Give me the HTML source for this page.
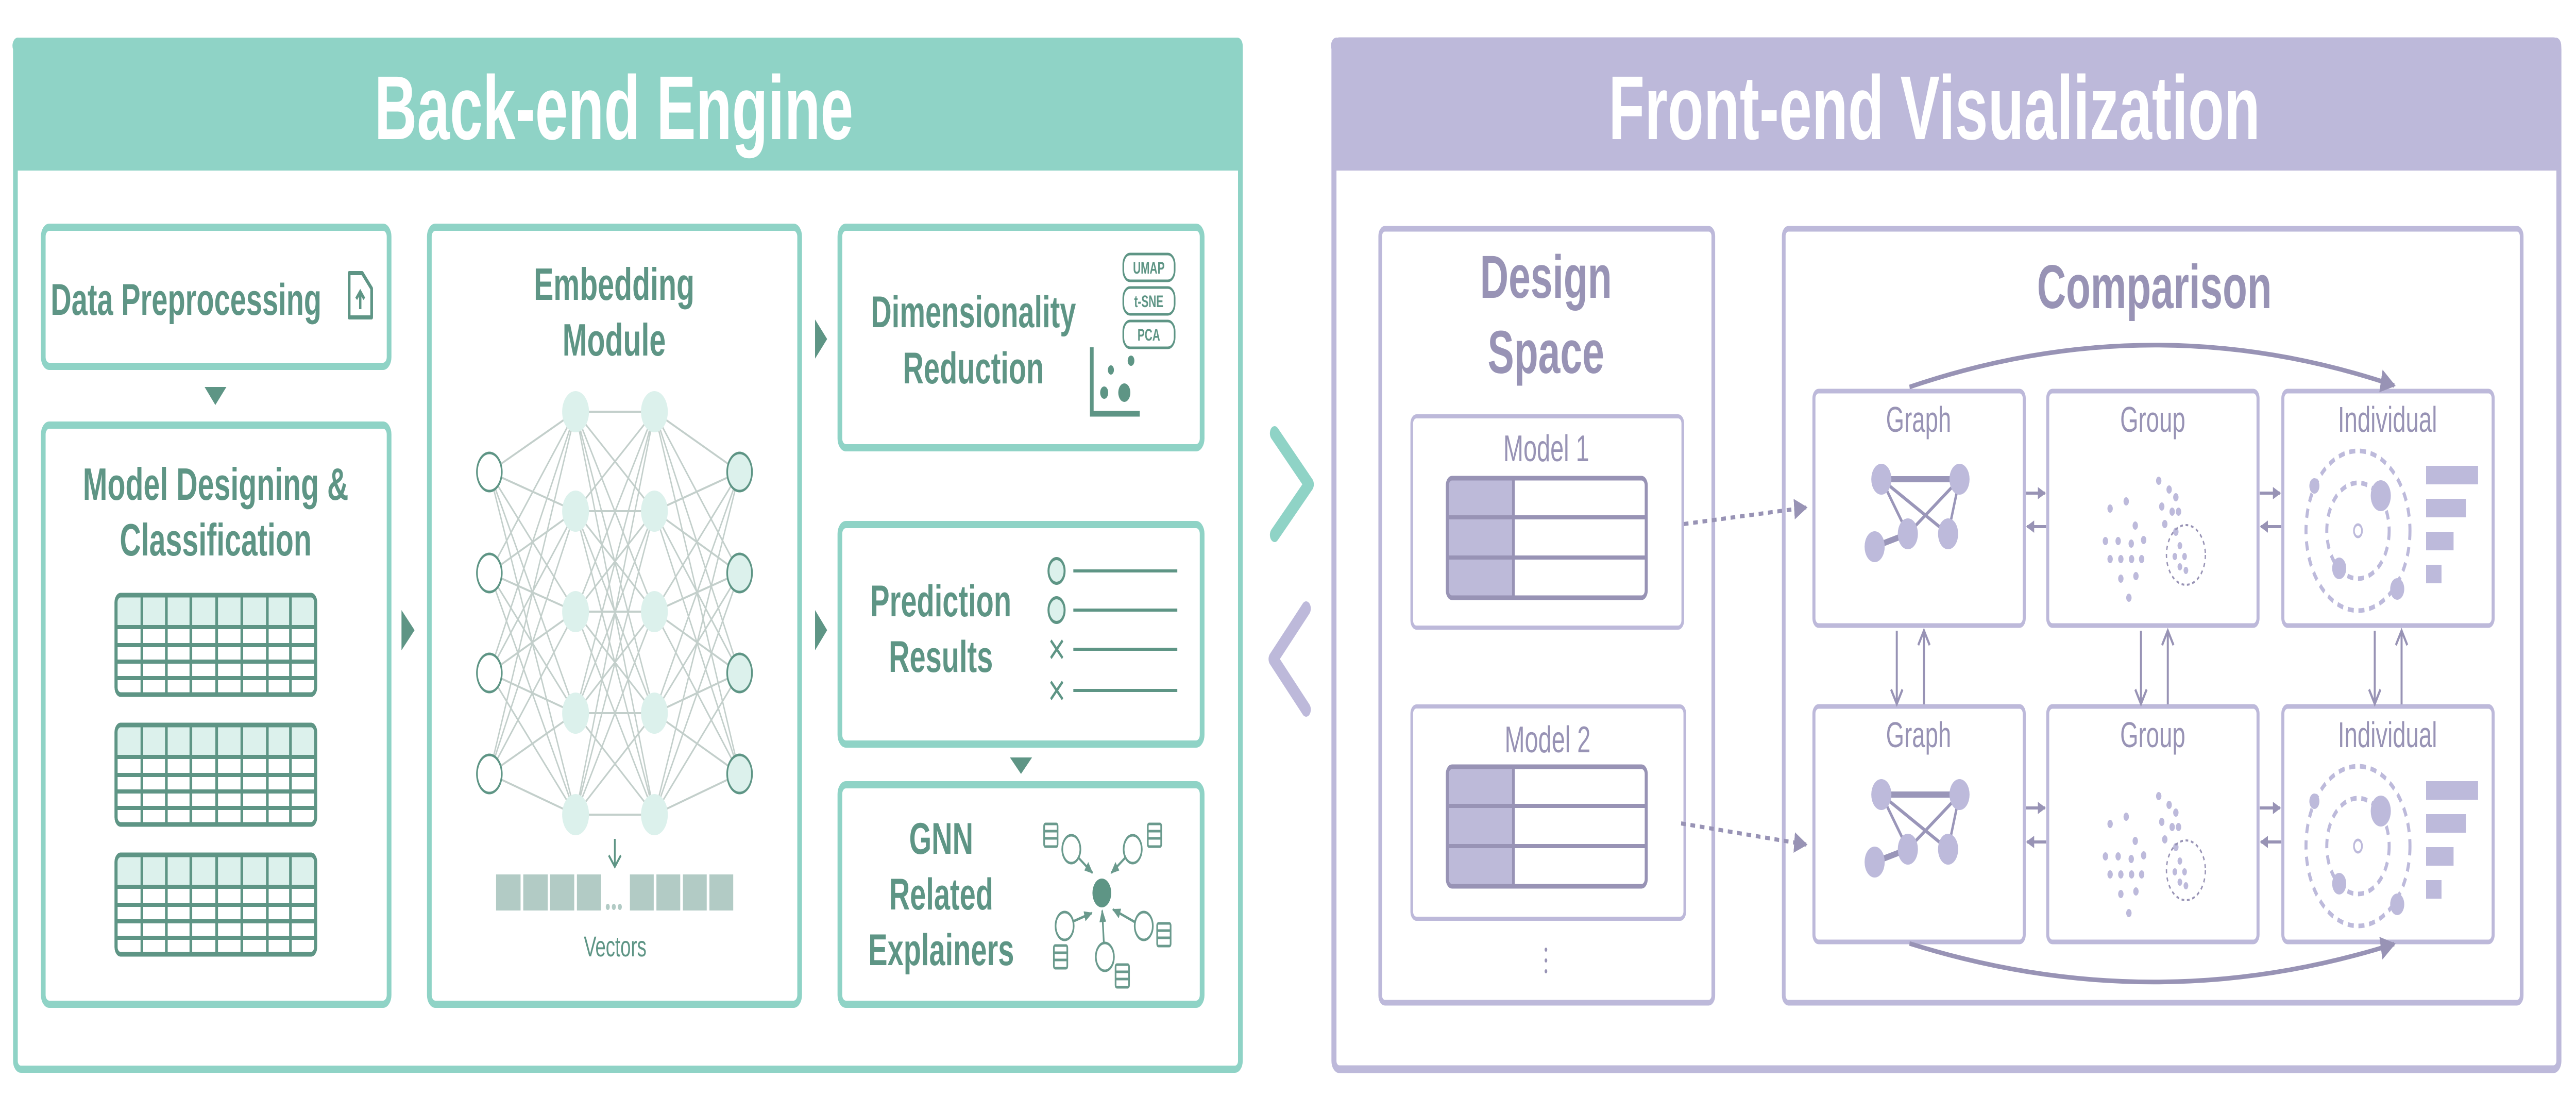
<!DOCTYPE html>
<html><head><meta charset="utf-8"><style>
html,body{margin:0;padding:0;background:#fff;overflow:hidden;width:100%;height:100%;}
svg{display:block;width:100vw;height:100vh;}
text{font-family:"Liberation Sans",sans-serif;}
</style></head><body>
<svg viewBox="0 0 7680 2160" preserveAspectRatio="none" xmlns="http://www.w3.org/2000/svg">
<defs>
<marker id="ah" viewBox="0 0 10 10" refX="9" refY="5" markerWidth="5" markerHeight="5" orient="auto" markerUnits="strokeWidth"><path d="M0,0L10,5L0,10z" fill="#9893b5"/></marker>
<marker id="ahs" viewBox="0 0 10 10" refX="9" refY="5" markerWidth="4" markerHeight="4" orient="auto" markerUnits="strokeWidth"><path d="M0,0L10,5L0,10z" fill="#9893b5"/></marker>
<marker id="gh" viewBox="0 0 10 10" refX="9" refY="5" markerWidth="5" markerHeight="5" orient="auto" markerUnits="strokeWidth"><path d="M0,1L10,5L0,9z" fill="#6a9a8d"/></marker>
<g id="db"><rect x="-20" y="-22" width="40" height="44" rx="4" fill="#fff" stroke="#6a9a8d" stroke-width="5"/><path d="M-20,-8H20M-20,6H20" stroke="#6a9a8d" stroke-width="5"/></g>
<g id="tbl"><rect x="0" y="0" width="595" height="193" rx="14" fill="#fff" stroke="#5e9585" stroke-width="9"/><rect x="4" y="4" width="587" height="58" rx="10" fill="#dcf1ec"/><path d="M0,62H595M0,97H595M0,129H595M0,161H595M77,0V193M150,0V193M223,0V193M300,0V193M375,0V193M451,0V193M520,0V193" stroke="#5e9585" stroke-width="8"/><rect x="0" y="0" width="595" height="193" rx="14" fill="none" stroke="#5e9585" stroke-width="9"/></g>
<g id="mtbl"><rect x="0" y="0" width="593" height="232" rx="14" fill="#fff"/><path d="M14,0H197V232H14A14,14 0 0 1 0,218V14A14,14 0 0 1 14,0z" fill="#bdbad9"/><path d="M0,76H593M0,154H593M197,0V232" stroke="#9893b5" stroke-width="8"/><rect x="0" y="0" width="593" height="232" rx="14" fill="none" stroke="#9893b5" stroke-width="9"/></g>
<g id="graphI"><path d="M206,175L439,175M285,281L186,306" stroke="#9a96b9" stroke-width="12"/><path d="M206,175L285,281M206,175L405,281M439,175L285,281M439,175L405,281" stroke="#9a96b9" stroke-width="7"/><g fill="#bdbadb"><circle cx="206" cy="175" r="30"/><circle cx="439" cy="175" r="30"/><circle cx="285" cy="281" r="30"/><circle cx="405" cy="281" r="30"/><circle cx="186" cy="306" r="30"/></g></g>
<g id="groupI" fill="#bdbadb"><circle cx="190" cy="232" r="8"/><circle cx="238" cy="218" r="8"/><circle cx="265" cy="265" r="8"/><circle cx="176" cy="295" r="8"/><circle cx="214" cy="295" r="8"/><circle cx="253" cy="300" r="8"/><circle cx="290" cy="293" r="8"/><circle cx="190" cy="330" r="8"/><circle cx="222" cy="330" r="8"/><circle cx="254" cy="330" r="8"/><circle cx="284" cy="330" r="8"/><circle cx="222" cy="368" r="8"/><circle cx="267" cy="363" r="8"/><circle cx="246" cy="405" r="8"/><circle cx="335" cy="178" r="8"/><circle cx="366" cy="195" r="8"/><circle cx="386" cy="210" r="8"/><circle cx="344" cy="228" r="8"/><circle cx="375" cy="238" r="8"/><circle cx="394" cy="238" r="8"/><circle cx="353" cy="262" r="8"/><circle cx="386" cy="277" r="8"/><circle cx="398" cy="304" r="7"/><circle cx="383" cy="325" r="7"/><circle cx="412" cy="325" r="7"/><circle cx="398" cy="345" r="7"/><circle cx="416" cy="352" r="7"/><circle cx="416" cy="322" r="58" fill="none" stroke="#9893b5" stroke-width="4" stroke-dasharray="8,8"/></g>
<g id="indI"><circle cx="228" cy="275" r="155" fill="none" stroke="#bdbadb" stroke-width="9" stroke-dasharray="18,14"/><circle cx="228" cy="275" r="93" fill="none" stroke="#bdbadb" stroke-width="9" stroke-dasharray="18,14"/><circle cx="228" cy="275" r="12" fill="#fff" stroke="#bdbadb" stroke-width="5"/><g fill="#bdbadb"><circle cx="98" cy="188" r="15"/><circle cx="296" cy="207" r="30"/><circle cx="172" cy="348" r="21"/><circle cx="345" cy="388" r="21"/><rect x="431" y="149" width="155" height="36"/><rect x="431" y="213" width="119" height="36"/><rect x="431" y="277" width="82" height="36"/><rect x="431" y="341" width="46" height="36"/></g></g>
</defs>

<rect x="46" y="80" width="3652" height="1995" rx="16" fill="#fff" stroke="#8fd3c6" stroke-width="14"/>
<path d="M39,96A16,16 0 0 1 55,73H3689A16,16 0 0 1 3705,89V331H39z" fill="#8fd3c6"/>
<text x="1830" y="270" font-size="176" font-weight="bold" fill="#fff" text-anchor="middle">Back-end Engine</text>

<g fill="#fff" stroke="#8fd3c6" stroke-width="14">
<rect x="129" y="441" width="1031" height="270" rx="18"/>
<rect x="129" y="825" width="1031" height="1124" rx="18"/>
<rect x="1280" y="441" width="1104" height="1508" rx="18"/>
<rect x="2504" y="441" width="1080" height="428" rx="18"/>
<rect x="2504" y="1018" width="1080" height="426" rx="18"/>
<rect x="2504" y="1523" width="1080" height="426" rx="18"/>
</g>
<g fill="#5e9585">
<path d="M610,751L675,751L642,786z"/>
<path d="M3011,1470L3077,1470L3044,1502z"/>
<path d="M1197,1184L1236,1223L1197,1262z"/>
<path d="M2430,620L2466,658L2430,696z"/>
<path d="M2430,1184L2466,1223L2430,1262z"/>
</g>

<text x="151" y="611" font-size="86" font-weight="bold" fill="#5e9585">Data Preprocessing</text>
<path d="M1041,530H1080L1108,560V616H1041z" fill="none" stroke="#5e9585" stroke-width="8" stroke-linejoin="round"/>
<path d="M1074,600V567M1062,580L1074,566L1086,580" fill="none" stroke="#5e9585" stroke-width="7"/>

<text x="643" y="970" font-size="88" font-weight="bold" fill="#5e9585" text-anchor="middle">Model Designing &amp;</text>
<text x="643" y="1078" font-size="88" font-weight="bold" fill="#5e9585" text-anchor="middle">Classification</text>
<use href="#tbl" x="346" y="1155"/>
<use href="#tbl" x="346" y="1407"/>
<use href="#tbl" x="346" y="1659"/>

<text x="1831" y="582" font-size="88" font-weight="bold" fill="#5e9585" text-anchor="middle">Embedding</text>
<text x="1831" y="690" font-size="88" font-weight="bold" fill="#5e9585" text-anchor="middle">Module</text>

<g stroke="#c3cfcb" stroke-width="4">
<path d="M1459,916L1716,799M1459,916L1716,992M1459,916L1716,1187M1459,916L1716,1384M1459,916L1716,1581
M1459,1112L1716,799M1459,1112L1716,992M1459,1112L1716,1187M1459,1112L1716,1384M1459,1112L1716,1581
M1459,1306L1716,799M1459,1306L1716,992M1459,1306L1716,1187M1459,1306L1716,1384M1459,1306L1716,1581
M1459,1502L1716,799M1459,1502L1716,992M1459,1502L1716,1187M1459,1502L1716,1384M1459,1502L1716,1581
M1716,799L1951,799M1716,799L1951,992M1716,799L1951,1187M1716,799L1951,1384M1716,799L1951,1581
M1716,992L1951,799M1716,992L1951,992M1716,992L1951,1187M1716,992L1951,1384M1716,992L1951,1581
M1716,1187L1951,799M1716,1187L1951,992M1716,1187L1951,1187M1716,1187L1951,1384M1716,1187L1951,1581
M1716,1384L1951,799M1716,1384L1951,992M1716,1384L1951,1187M1716,1384L1951,1384M1716,1384L1951,1581
M1716,1581L1951,799M1716,1581L1951,992M1716,1581L1951,1187M1716,1581L1951,1384M1716,1581L1951,1581
M2205,916L1951,799M2205,916L1951,992M2205,916L1951,1187M2205,916L1951,1384M2205,916L1951,1581
M2205,1112L1951,799M2205,1112L1951,992M2205,1112L1951,1187M2205,1112L1951,1384M2205,1112L1951,1581
M2205,1306L1951,799M2205,1306L1951,992M2205,1306L1951,1187M2205,1306L1951,1384M2205,1306L1951,1581
M2205,1502L1951,799M2205,1502L1951,992M2205,1502L1951,1187M2205,1502L1951,1384M2205,1502L1951,1581"/>
</g>
<g fill="#fff" stroke="#5e9585" stroke-width="5">
<circle cx="1459" cy="916" r="37"/><circle cx="1459" cy="1112" r="37"/><circle cx="1459" cy="1306" r="37"/><circle cx="1459" cy="1502" r="37"/>
</g>
<g fill="#dcf1ec">
<circle cx="1716" cy="799" r="40"/><circle cx="1716" cy="992" r="40"/><circle cx="1716" cy="1187" r="40"/><circle cx="1716" cy="1384" r="40"/><circle cx="1716" cy="1581" r="40"/>
<circle cx="1951" cy="799" r="40"/><circle cx="1951" cy="992" r="40"/><circle cx="1951" cy="1187" r="40"/><circle cx="1951" cy="1384" r="40"/><circle cx="1951" cy="1581" r="40"/>
</g>
<g fill="#dcf1ec" stroke="#5e9585" stroke-width="5">
<circle cx="2205" cy="916" r="37"/><circle cx="2205" cy="1112" r="37"/><circle cx="2205" cy="1306" r="37"/><circle cx="2205" cy="1502" r="37"/>
</g>
<path d="M1833,1628V1680M1815,1660L1833,1682L1851,1660" fill="none" stroke="#5e9585" stroke-width="5"/>
<g fill="#b2cbc5">
<rect x="1479" y="1697" width="73" height="70"/><rect x="1560" y="1697" width="73" height="70"/><rect x="1640" y="1697" width="72" height="70"/><rect x="1720" y="1697" width="72" height="70"/>
<circle cx="1812" cy="1760" r="6"/><circle cx="1830" cy="1760" r="6"/><circle cx="1848" cy="1760" r="6"/>
<rect x="1878" y="1697" width="71" height="70"/><rect x="1957" y="1697" width="71" height="70"/><rect x="2036" y="1697" width="71" height="70"/><rect x="2115" y="1697" width="71" height="70"/>
</g>
<text x="1834" y="1856" font-size="56" fill="#5e9585" text-anchor="middle">Vectors</text>

<text x="2902" y="635" font-size="86" font-weight="bold" fill="#5e9585" text-anchor="middle">Dimensionality</text>
<text x="2902" y="744" font-size="86" font-weight="bold" fill="#5e9585" text-anchor="middle">Reduction</text>
<g fill="#fff" stroke="#5e9585" stroke-width="5">
<rect x="3349" y="493" width="153" height="52" rx="20"/><rect x="3349" y="558" width="153" height="52" rx="20"/><rect x="3349" y="623" width="153" height="52" rx="20"/>
</g>
<g font-size="32" font-weight="bold" fill="#5e9585" text-anchor="middle">
<text x="3425" y="531">UMAP</text><text x="3425" y="596">t-SNE</text><text x="3425" y="661">PCA</text></g>
<path d="M3255,674V803H3398" fill="none" stroke="#5e9585" stroke-width="11"/>
<g fill="#5e9585"><circle cx="3292" cy="762" r="12"/><circle cx="3352" cy="762" r="18"/><circle cx="3312" cy="718" r="9"/><circle cx="3372" cy="700" r="10"/></g>

<text x="2805" y="1196" font-size="86" font-weight="bold" fill="#5e9585" text-anchor="middle">Prediction</text>
<text x="2805" y="1304" font-size="86" font-weight="bold" fill="#5e9585" text-anchor="middle">Results</text>
<g stroke="#5e9585" stroke-width="6" fill="#dcf1ec">
<circle cx="3150" cy="1108" r="24"/><circle cx="3150" cy="1184" r="24"/>
<path d="M3200,1108H3510M3200,1184H3510M3200,1260H3510M3200,1340H3510M3133,1243L3168,1277M3168,1243L3133,1277M3133,1323L3168,1357M3168,1323L3133,1357" fill="none"/>
</g>

<text x="2806" y="1657" font-size="86" font-weight="bold" fill="#5e9585" text-anchor="middle">GNN</text>
<text x="2806" y="1765" font-size="86" font-weight="bold" fill="#5e9585" text-anchor="middle">Related</text>
<text x="2806" y="1873" font-size="86" font-weight="bold" fill="#5e9585" text-anchor="middle">Explainers</text>
<g stroke="#6a9a8d" stroke-width="5" fill="none">
<path d="M3213,1663L3257,1694" marker-end="url(#gh)"/>
<path d="M3357,1663L3313,1694" marker-end="url(#gh)"/>
<path d="M3200,1788L3255,1772" marker-end="url(#gh)"/>
<path d="M3385,1790L3318,1765" marker-end="url(#gh)"/>
<path d="M3291,1830L3286,1767" marker-end="url(#gh)"/>
</g>
<circle cx="3285" cy="1733" r="28" fill="#5e9585"/>
<g fill="#fff" stroke="#6a9a8d" stroke-width="5">
<circle cx="3194" cy="1648" r="27"/><circle cx="3377" cy="1648" r="27"/><circle cx="3174" cy="1797" r="27"/><circle cx="3410" cy="1797" r="27"/><circle cx="3294" cy="1857" r="27"/>
</g>
<use href="#db" x="3133" y="1621"/><use href="#db" x="3442" y="1621"/><use href="#db" x="3162" y="1857"/><use href="#db" x="3470" y="1814"/><use href="#db" x="3346" y="1894"/>

<path d="M3800,841L3903,940L3800,1038" fill="none" stroke="#8fd3c6" stroke-width="28" stroke-linecap="round" stroke-linejoin="round"/>
<path d="M3894,1181L3796,1279L3894,1377" fill="none" stroke="#bdb9da" stroke-width="28" stroke-linecap="round" stroke-linejoin="round"/>

<rect x="3977" y="80" width="3652" height="1995" rx="16" fill="#fff" stroke="#bdb9da" stroke-width="15"/>
<path d="M3970,96A16,16 0 0 1 3986,73H7620A16,16 0 0 1 7636,89V331H3970z" fill="#bdb9da"/>
<text x="5767" y="270" font-size="176" font-weight="bold" fill="#fff" text-anchor="middle">Front-end Visualization</text>

<g fill="#fff" stroke="#bdb9da">
<rect x="4115" y="444" width="993" height="1502" rx="14" stroke-width="11"/>
<rect x="5318" y="444" width="2200" height="1502" rx="14" stroke-width="11"/>
<rect x="4209" y="808" width="808" height="410" rx="14" stroke-width="8"/>
<rect x="4209" y="1371" width="814" height="412" rx="14" stroke-width="8"/>
<rect x="5408" y="759" width="627" height="455" rx="14" stroke-width="9"/>
<rect x="6105" y="759" width="627" height="455" rx="14" stroke-width="9"/>
<rect x="6806" y="759" width="627" height="455" rx="14" stroke-width="9"/>
<rect x="5408" y="1371" width="627" height="457" rx="14" stroke-width="9"/>
<rect x="6105" y="1371" width="627" height="457" rx="14" stroke-width="9"/>
<rect x="6806" y="1371" width="627" height="457" rx="14" stroke-width="9"/>
</g>

<text x="4609" y="578" font-size="118" font-weight="bold" fill="#9893b5" text-anchor="middle">Design</text>
<text x="4609" y="724" font-size="118" font-weight="bold" fill="#9893b5" text-anchor="middle">Space</text>
<text x="4610" y="895" font-size="72" fill="#9893b5" text-anchor="middle">Model 1</text>
<text x="4614" y="1460" font-size="72" fill="#9893b5" text-anchor="middle">Model 2</text>
<use href="#mtbl" x="4315" y="928"/>
<use href="#mtbl" x="4315" y="1488"/>
<g fill="#9893b5"><circle cx="4609" cy="1843" r="4"/><circle cx="4609" cy="1864" r="4"/><circle cx="4609" cy="1885" r="4"/></g>

<text x="6423" y="598" font-size="120" font-weight="bold" fill="#9893b5" text-anchor="middle">Comparison</text>

<g font-size="70" fill="#9893b5" text-anchor="middle">
<text x="5720" y="838">Graph</text><text x="6418" y="838">Group</text><text x="7118" y="838">Individual</text>
<text x="5720" y="1450">Graph</text><text x="6418" y="1450">Group</text><text x="7118" y="1450">Individual</text>
</g>
<use href="#graphI" x="5403" y="755"/><use href="#graphI" x="5403" y="1367"/>
<use href="#groupI" x="6101" y="755"/><use href="#groupI" x="6101" y="1367"/>
<use href="#indI" x="6802" y="755"/><use href="#indI" x="6802" y="1367"/>

<g stroke="#9893b5" stroke-width="6" fill="none">
<path d="M6040,957H6097" marker-end="url(#ahs)"/><path d="M6100,1022H6043" marker-end="url(#ahs)"/>
<path d="M6737,957H6798" marker-end="url(#ahs)"/><path d="M6801,1022H6740" marker-end="url(#ahs)"/>
<path d="M6040,1568H6097" marker-end="url(#ahs)"/><path d="M6100,1634H6043" marker-end="url(#ahs)"/>
<path d="M6737,1568H6798" marker-end="url(#ahs)"/><path d="M6801,1634H6740" marker-end="url(#ahs)"/>
<path d="M5655,1224V1364M5638,1338L5655,1366L5672,1338M5736,1367V1224M5719,1252L5736,1224L5753,1252"/>
<path d="M6383,1224V1364M6366,1338L6383,1366L6400,1338M6463,1367V1224M6446,1252L6463,1224L6480,1252"/>
<path d="M7080,1224V1364M7063,1338L7080,1366L7097,1338M7160,1367V1224M7143,1252L7160,1224L7177,1252"/>
<path d="M5693,751Q6420,590 7138,748" stroke-width="9" marker-end="url(#ah)"/>
<path d="M5693,1831Q6420,1980 7138,1832" stroke-width="9" marker-end="url(#ah)"/>
<path d="M5020,1017L5385,985" stroke-width="8" stroke-dasharray="14,14" marker-end="url(#ah)"/>
<path d="M5012,1598L5385,1639" stroke-width="8" stroke-dasharray="14,14" marker-end="url(#ah)"/>
</g>
</svg>
</body></html>
